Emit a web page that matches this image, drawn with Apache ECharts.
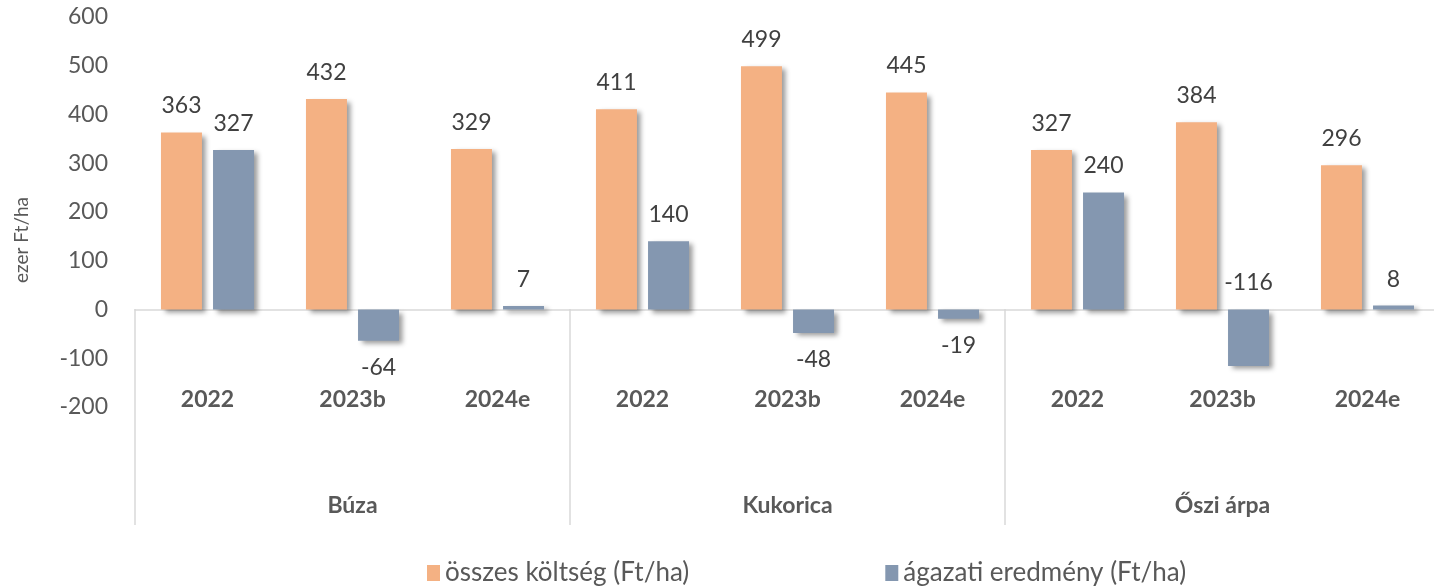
<!DOCTYPE html>
<html>
<head>
<meta charset="utf-8">
<script src="https://cdn.jsdelivr.net/npm/echarts@6/dist/echarts.min.js"></script>
<style>
  html, body { margin: 0; padding: 0; background: #fff; }
  #chart { width: 1434px; height: 588px; }
</style>
</head>
<body>
<div id="chart"></div>
<script>
// adatok
const crops = ['Búza', 'Kukorica', 'Őszi árpa']
const years = ['2022', '2023b', '2024e', '2022', '2023b', '2024e', '2022', '2023b', '2024e']
const osszesKoltseg = [363, 432, 329, 411, 499, 445, 327, 384, 296]
const agazatiEredmeny = [327, -64, 7, 140, -48, -19, 240, -116, 8]

const FONT = 'Lato'
const GREY = '#595959'
// -116 cimke a nulla vonal fole kerul (mint az eredetin)
const labelAboveZero = [7]

const chart = echarts.init(document.getElementById('chart'))

const shadow = {
  shadowColor: 'rgba(0,0,0,0.4)',
  shadowBlur: 5,
  shadowOffsetX: 4,
  shadowOffsetY: 3
}

const valueLabel = {
  show: true,
  fontFamily: FONT,
  fontSize: 23,
  lineHeight: 23,
  color: '#404040',
  distance: 15
}

chart.setOption({
  animation: false,
  textStyle: { fontFamily: FONT },
  grid: {
    left: 135,
    width: 1305,
    top: 17,
    bottom: 181,
    containLabel: false,
    outerBoundsMode: 'none'
  },
  legend: {
    left: 422,
    top: 555,
    itemWidth: 13,
    itemHeight: 16,
    itemGap: 196,
    icon: 'rect',
    textStyle: { fontFamily: FONT, fontSize: 26, color: GREY },
    data: ['összes költség (Ft/ha)', 'ágazati eredmény (Ft/ha)']
  },
  xAxis: [
    {
      // nulla vonal
      type: 'category',
      position: 'top',
      data: years,
      axisLine: { onZero: true, lineStyle: { color: '#d9d9d9', width: 1.5 } },
      axisTick: { show: false },
      axisLabel: { show: false }
    },
    {
      // evszamok
      type: 'category',
      position: 'bottom',
      offset: -25,
      data: years,
      axisLine: { show: false },
      axisTick: { show: false },
      axisLabel: {
        margin: 6,
        fontFamily: FONT,
        fontSize: 23,
        fontWeight: 'bold',
        color: GREY,
        interval: 0
      }
    },
    {
      // novenyek
      type: 'category',
      position: 'bottom',
      offset: 118,
      data: crops,
      axisLine: { show: false },
      axisTick: {
        show: true,
        inside: true,
        length: 216,
        interval: 0,
        lineStyle: { color: '#d9d9d9', width: 1.5 }
      },
      axisLabel: {
        inside: true,
        margin: 8,
        fontFamily: FONT,
        fontSize: 23,
        fontWeight: 'bold',
        color: GREY,
        interval: 0
      }
    }
  ],
  yAxis: {
    type: 'value',
    min: -200,
    max: 600,
    interval: 100,
    axisLine: { show: false },
    axisTick: { show: false },
    splitLine: { show: false },
    axisLabel: {
      margin: 27,
      fontFamily: FONT,
      fontSize: 23,
      color: GREY
    }
  },
  graphic: [
    {
      type: 'text',
      x: 22,
      y: 240,
      rotation: Math.PI / 2,
      style: {
        text: 'ezer Ft/ha',
        fontFamily: FONT,
        fontSize: 19,
        fill: GREY,
        align: 'center',
        verticalAlign: 'middle'
      }
    }
  ],
  series: [
    {
      name: 'összes költség (Ft/ha)',
      type: 'bar',
      xAxisIndex: 0,
      barWidth: 41,
      barGap: '27%',
      itemStyle: Object.assign({ color: '#F4B183' }, shadow),
      label: Object.assign({ position: 'top' }, valueLabel),
      data: osszesKoltseg
    },
    {
      name: 'ágazati eredmény (Ft/ha)',
      type: 'bar',
      xAxisIndex: 0,
      barWidth: 41,
      barGap: '27%',
      itemStyle: Object.assign({ color: '#8497B0' }, shadow),
      label: Object.assign({ position: 'top' }, valueLabel),
      data: agazatiEredmeny.map((v, i) => ({
        value: v,
        label: { position: v < 0 && labelAboveZero.indexOf(i) < 0 ? 'bottom' : 'top' }
      }))
    }
  ]
})
</script>
</body>
</html>
